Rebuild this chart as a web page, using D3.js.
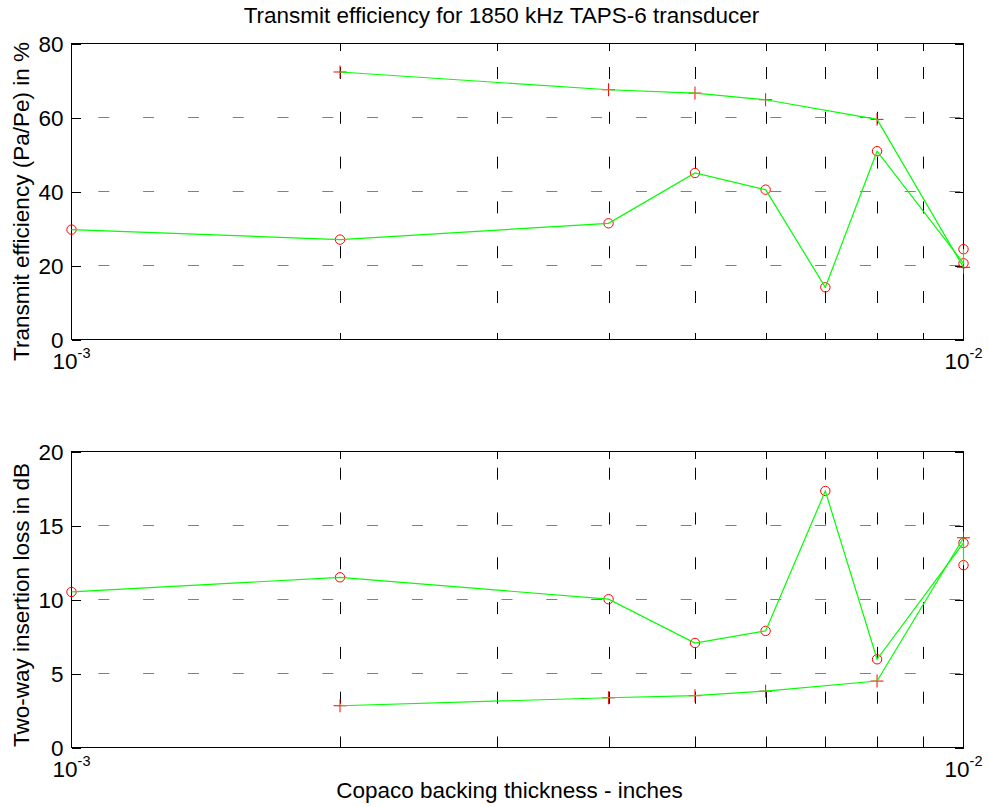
<!DOCTYPE html>
<html>
<head>
<meta charset="utf-8">
<script src="https://cdn.jsdelivr.net/npm/d3@7"></script>
<style>
	body { margin: 0; background: #fff; }
	svg { display: block; }
	text { font-family: "Liberation Sans", Arial, Helvetica, sans-serif; fill: #000; }
</style>
</head>
<body>
<svg id="chart" width="989" height="807"></svg>
<script>
//Copaco backing thickness in inches, circle series
var thickness = [0.001, 0.002, 0.004, 0.005, 0.006, 0.007, 0.008, 0.01, 0.01];
var efficiency = [29.7, 27.0, 31.4, 45.0, 40.5, 14.1, 50.9, 20.6, 24.4];
var loss = [10.51, 11.5, 10.02, 7.06, 7.88, 17.33, 5.96, 13.83, 12.32];

//Plus series
var thicknessPlus = [0.002, 0.004, 0.005, 0.006, 0.008, 0.01];
var efficiencyPlus = [72.3, 67.5, 66.6, 64.8, 59.5, 19.5];
var lossPlus = [2.82, 3.36, 3.5, 3.81, 4.49, 14.17];

//Ticks
var xMinorTicks = [0.002, 0.003, 0.004, 0.005, 0.006, 0.007, 0.008, 0.009];
var xMajorTicks = [0.001, 0.01];
var xTickExponents = ["-3", "-2"];
var effTicks = [0, 20, 40, 60, 80];
var lossTicks = [0, 5, 10, 15, 20];

var title = "Transmit efficiency for 1850 kHz TAPS-6 transducer";
var xLabel = "Copaco backing thickness - inches";

var svg = d3.select("#chart");
var left = 71.5, right = 963.5;
var fontSize = 22.5;

var x = d3.scaleLog()
	.domain([0.001, 0.01])
	.range([left, right]);

var panels = [
	{top: 43.5, bottom: 339.5, max: 80, ticks: effTicks, y1: efficiency, y2: efficiencyPlus,
		label: "Transmit efficiency (Pa/Pe) in %", labelY: 201.5, vDashStart: 23.5},
	{top: 451.5, bottom: 747.5, max: 20, ticks: lossTicks, y1: loss, y2: lossPlus,
		label: "Two-way insertion loss in dB", labelY: 605, vDashStart: 16.2}
];

var period = 44.8;

panels.forEach(function(p){
	var y = d3.scaleLinear()
		.domain([0, p.max])
		.range([p.bottom, p.top]);

	var g = svg.append("g");

	//Box (drawn under the data, like the matlab default)
	g.append("rect")
		.attr("x", left)
		.attr("y", p.top)
		.attr("width", right - left)
		.attr("height", p.bottom - p.top)
		.attr("fill", "none")
		.attr("stroke", "#000")
		.attr("stroke-width", 1);

	//Vertical grid
	g.selectAll(".vgrid")
		.data(xMinorTicks)
		.enter().append("line")
		.attr("x1", function(d){ return Math.round(x(d)) + 0.5; })
		.attr("x2", function(d){ return Math.round(x(d)) + 0.5; })
		.attr("y1", p.top)
		.attr("y2", p.bottom)
		.attr("stroke", "#000")
		.attr("stroke-dasharray", "12," + (period - 12))
		.attr("stroke-dashoffset", period - p.vDashStart);

	//Horizontal grid
	g.selectAll(".hgrid")
		.data(p.ticks.slice(1, -1))
		.enter().append("line")
		.attr("x1", left)
		.attr("x2", right)
		.attr("y1", function(d){ return Math.round(y(d) - 0.5) + 0.5; })
		.attr("y2", function(d){ return Math.round(y(d) - 0.5) + 0.5; })
		.attr("stroke", "#808080")
		.attr("stroke-dasharray", "11," + (period - 11))
		.attr("stroke-dashoffset", period - 26.8);

	//Axes, ticks pointing inward
	var yLeft = d3.axisLeft(y).tickValues(p.ticks).tickSize(-9).tickSizeOuter(0).tickPadding(8);
	var yRight = d3.axisRight(y).tickValues(p.ticks).tickSize(-9).tickSizeOuter(0).tickFormat("");
	var xBottom = d3.axisBottom(x).tickValues(xMinorTicks).tickSize(-7).tickSizeOuter(0).tickFormat("");
	var xTop = d3.axisTop(x).tickValues(xMinorTicks).tickSize(-7).tickSizeOuter(0).tickFormat("");

	var axes = [
		g.append("g").attr("transform", "translate(" + left + ",0)").call(yLeft),
		g.append("g").attr("transform", "translate(" + right + ",0)").call(yRight),
		g.append("g").attr("transform", "translate(0," + p.bottom + ")").call(xBottom),
		g.append("g").attr("transform", "translate(0," + p.top + ")").call(xTop)
	];
	axes.forEach(function(a){
		a.select(".domain").remove();
		a.selectAll("line").attr("stroke", "#000").attr("shape-rendering", "crispEdges");
		a.selectAll("text")
			.style("font-size", fontSize + "px")
			.style("font-family", "'Liberation Sans', Arial, Helvetica, sans-serif")
			.attr("fill", "#000")
			.attr("dy", "0.35em");
	});

	//Decade labels 10^-3, 10^-2
	var decade = g.selectAll(".decade")
		.data(xMajorTicks)
		.enter().append("text")
		.attr("x", function(d){ return x(d); })
		.attr("y", p.bottom + 29)
		.attr("text-anchor", "middle")
		.style("font-size", fontSize + "px");
	decade.append("tspan").text("10");
	decade.append("tspan")
		.attr("dy", -11)
		.style("font-size", "14.5px")
		.text(function(d, i){ return xTickExponents[i]; });

	//Y label
	g.append("text")
		.attr("text-anchor", "middle")
		.attr("transform", "translate(29," + p.labelY + ")rotate(-90)")
		.style("font-size", fontSize + "px")
		.text(p.label);

	//Markers first, lines over them
	var circles = d3.range(thickness.length);
	var pluses = d3.range(thicknessPlus.length);

	g.selectAll(".circle")
		.data(circles)
		.enter().append("circle")
		.attr("cx", function(i){ return x(thickness[i]); })
		.attr("cy", function(i){ return y(p.y1[i]); })
		.attr("r", 4.7)
		.attr("fill", "none")
		.attr("stroke", "#ff0000")
		.attr("stroke-width", 1);

	g.selectAll(".plus")
		.data(pluses)
		.enter().append("path")
		.attr("d", function(i){
			var cx = x(thicknessPlus[i]), cy = y(p.y2[i]), s = 6.5;
			return "M" + (cx - s) + "," + cy + "H" + (cx + s) + "M" + cx + "," + (cy - s) + "V" + (cy + s);
		})
		.attr("stroke", "#ff0000")
		.attr("stroke-width", 1);

	var line = d3.line()
		.x(function(d){ return x(d[0]); })
		.y(function(d){ return y(d[1]); });

	g.append("path")
		.datum(d3.zip(thickness, p.y1))
		.attr("d", line)
		.attr("fill", "none")
		.attr("stroke", "#00ff00")
		.attr("stroke-width", 1.2);

	g.append("path")
		.datum(d3.zip(thicknessPlus, p.y2))
		.attr("d", line)
		.attr("fill", "none")
		.attr("stroke", "#00ff00")
		.attr("stroke-width", 1.2);
});

//Title and x label
svg.append("text")
	.attr("x", 501.5)
	.attr("y", 23.3)
	.attr("text-anchor", "middle")
	.style("font-size", fontSize + "px")
	.text(title);

svg.append("text")
	.attr("x", 509.5)
	.attr("y", 798)
	.attr("text-anchor", "middle")
	.style("font-size", fontSize + "px")
	.text(xLabel);
</script>
</body>
</html>
